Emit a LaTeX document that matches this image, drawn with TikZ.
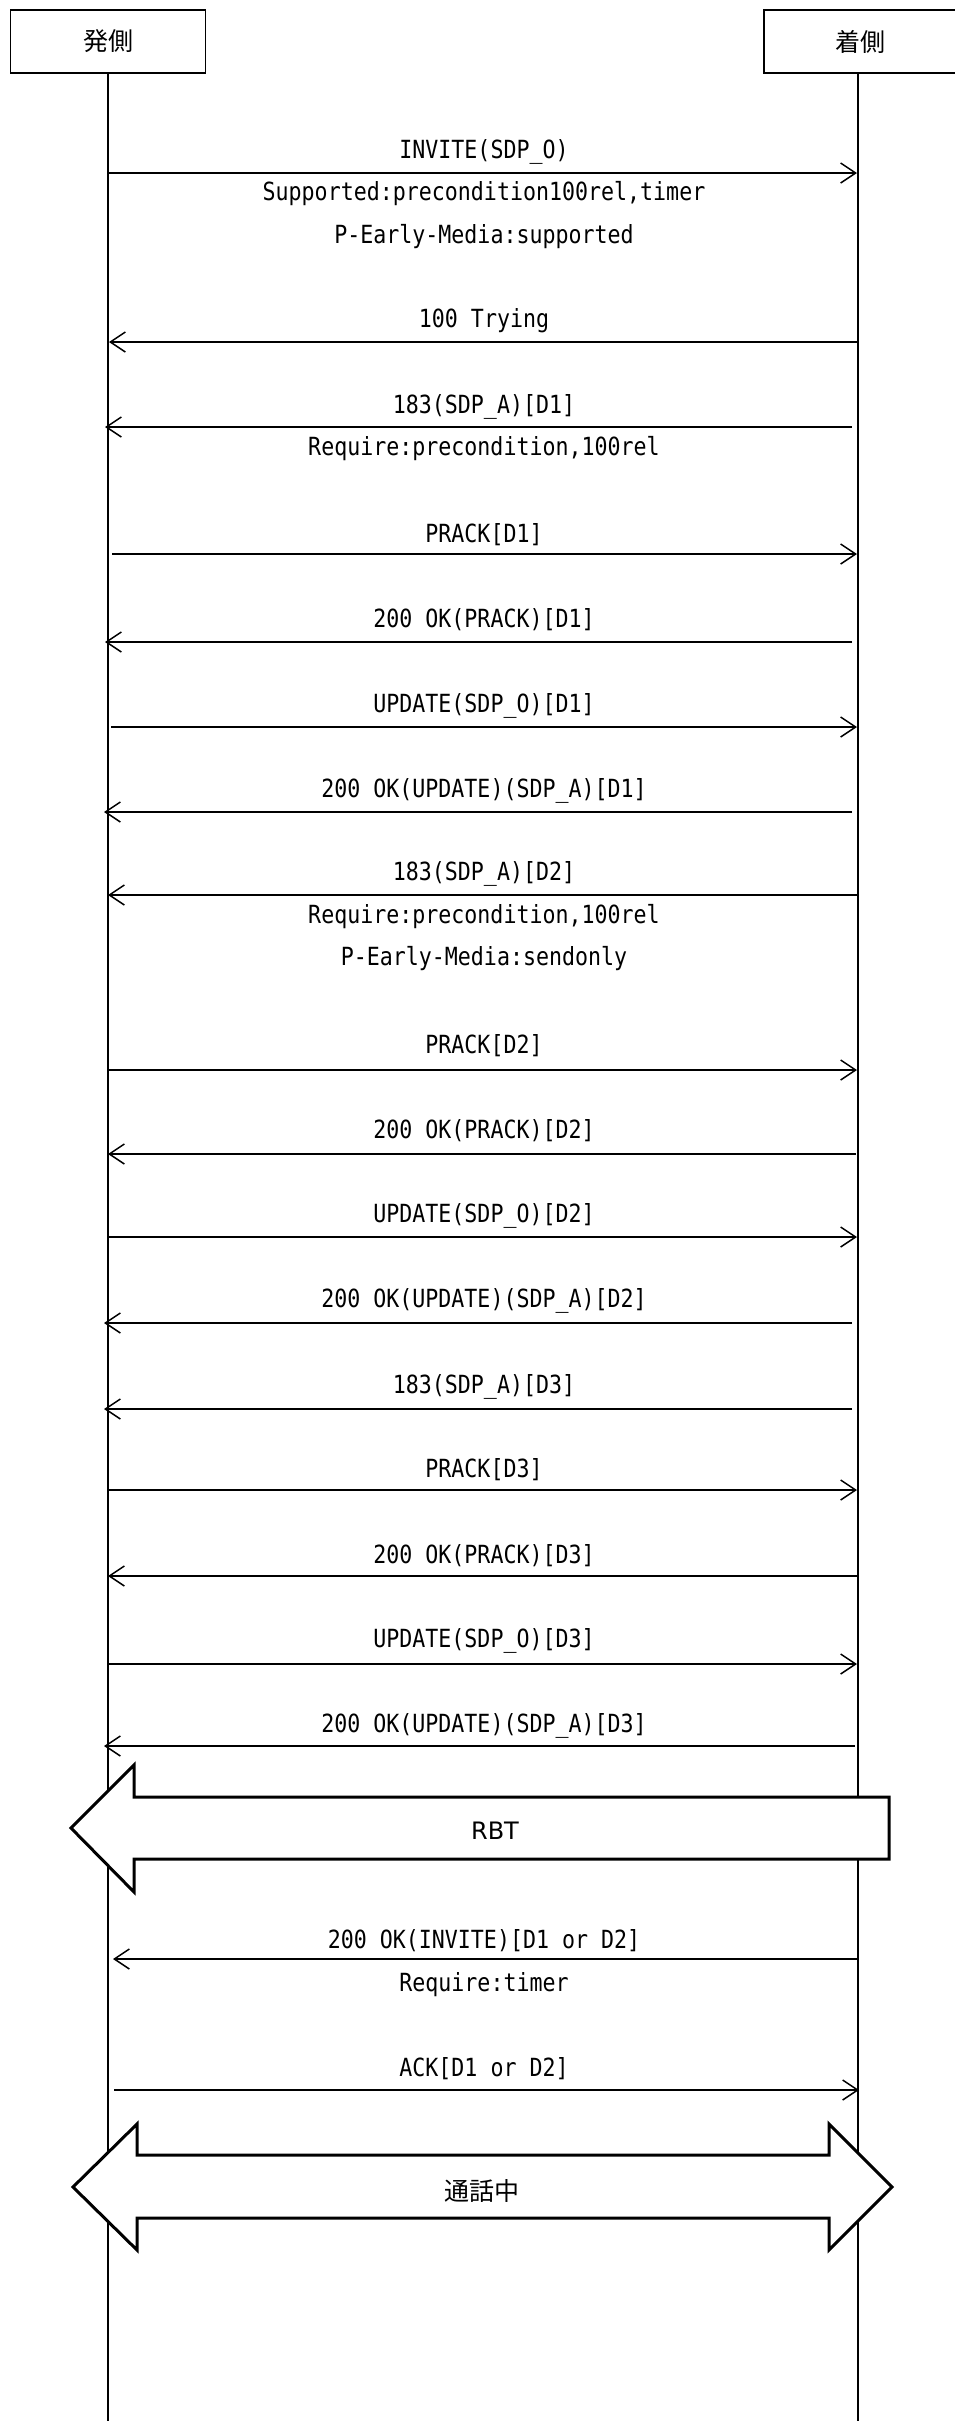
\documentclass[tikz,border=0pt]{standalone}
\usepackage{fontspec}
\usetikzlibrary{arrows.meta}
\newfontfamily\msgfont{DejaVu Sans Mono}[FakeStretch=0.865]
\newfontfamily\jpfont{Noto Sans CJK JP}
\newfontfamily\sansfont{DejaVu Sans}
\begin{document}
\begin{tikzpicture}[x=1pt,y=-1pt,
  actor/.style={draw, line width=1.5pt, fill=white, minimum height=63pt, inner sep=0pt, font=\jpfont\fontsize{25}{29}\selectfont},
  life/.style={line width=1.3pt},
  msg/.style={line width=1.5pt, -{Straight Barb[length=15pt,width=20pt]}},
  lbl/.style={font=\msgfont\fontsize{25}{29}\selectfont, inner sep=0pt},
  big/.style={line width=3pt, fill=white, line join=miter},
  bigtext/.style={inner sep=0pt}
]
\useasboundingbox (0,0) rectangle (954,2421);
\fill[white] (0,0) rectangle (954,2421);

% actors
\node[actor, minimum width=195pt] (A) at (108,41.5) {発側};
\node[actor, minimum width=192pt] (B) at (860,41.5) {着側};
\coordinate (At) at (108,73);
\coordinate (Ab) at (108,2421);
\coordinate (Bt) at (858,73);
\coordinate (Bb) at (858,2421);
\draw[life] (At) -- (Ab);
\draw[life] (Bt) -- (Bb);

% 1 INVITE
\coordinate (m1s) at (108,173); \coordinate (m1e) at (857,173);
\draw[msg] (m1s) -- (m1e);
\node[lbl] (m1t) at (484,152) {INVITE(SDP\_O)};
\node[lbl] (m1u) at (484,194) {Supported:precondition100rel,timer};
\node[lbl] (m1v) at (484,237) {P-Early-Media:supported};

% 2 100 Trying
\coordinate (m2s) at (858,342); \coordinate (m2e) at (109,342);
\draw[msg] (m2s) -- (m2e);
\node[lbl] (m2t) at (484,321) {100 Trying};

% 3 183 D1
\coordinate (m3s) at (852,427); \coordinate (m3e) at (105,427);
\draw[msg] (m3s) -- (m3e);
\node[lbl] (m3t) at (484,407) {183(SDP\_A)[D1]};
\node[lbl] (m3u) at (484,449) {Require:precondition,100rel};

% 4 PRACK D1
\coordinate (m4s) at (112,554); \coordinate (m4e) at (857,554);
\draw[msg] (m4s) -- (m4e);
\node[lbl] (m4t) at (484,535) {PRACK[D1]};

% 5 200 OK PRACK D1
\coordinate (m5s) at (852,642); \coordinate (m5e) at (105,642);
\draw[msg] (m5s) -- (m5e);
\node[lbl] (m5t) at (484,620) {200 OK(PRACK)[D1]};

% 6 UPDATE D1
\coordinate (m6s) at (111,727); \coordinate (m6e) at (857,727);
\draw[msg] (m6s) -- (m6e);
\node[lbl] (m6t) at (484,706) {UPDATE(SDP\_O)[D1]};

% 7 200 OK UPDATE D1
\coordinate (m7s) at (852,812); \coordinate (m7e) at (104,812);
\draw[msg] (m7s) -- (m7e);
\node[lbl] (m7t) at (484,791) {200 OK(UPDATE)(SDP\_A)[D1]};

% 8 183 D2
\coordinate (m8s) at (857,895); \coordinate (m8e) at (108,895);
\draw[msg] (m8s) -- (m8e);
\node[lbl] (m8t) at (484,874) {183(SDP\_A)[D2]};
\node[lbl] (m8u) at (484,917) {Require:precondition,100rel};
\node[lbl] (m8v) at (484,959) {P-Early-Media:sendonly};

% 9 PRACK D2
\coordinate (m9s) at (108,1070); \coordinate (m9e) at (857,1070);
\draw[msg] (m9s) -- (m9e);
\node[lbl] (m9t) at (484,1046) {PRACK[D2]};

% 10 200 OK PRACK D2
\coordinate (m10s) at (856,1154); \coordinate (m10e) at (108,1154);
\draw[msg] (m10s) -- (m10e);
\node[lbl] (m10t) at (484,1131) {200 OK(PRACK)[D2]};

% 11 UPDATE D2
\coordinate (m11s) at (108,1237); \coordinate (m11e) at (857,1237);
\draw[msg] (m11s) -- (m11e);
\node[lbl] (m11t) at (484,1216) {UPDATE(SDP\_O)[D2]};

% 12 200 OK UPDATE D2
\coordinate (m12s) at (852,1323); \coordinate (m12e) at (104,1323);
\draw[msg] (m12s) -- (m12e);
\node[lbl] (m12t) at (484,1301) {200 OK(UPDATE)(SDP\_A)[D2]};

% 13 183 D3
\coordinate (m13s) at (852,1409); \coordinate (m13e) at (104,1409);
\draw[msg] (m13s) -- (m13e);
\node[lbl] (m13t) at (484,1387) {183(SDP\_A)[D3]};

% 14 PRACK D3
\coordinate (m14s) at (108,1490); \coordinate (m14e) at (857,1490);
\draw[msg] (m14s) -- (m14e);
\node[lbl] (m14t) at (484,1470) {PRACK[D3]};

% 15 200 OK PRACK D3
\coordinate (m15s) at (857,1576); \coordinate (m15e) at (108,1576);
\draw[msg] (m15s) -- (m15e);
\node[lbl] (m15t) at (484,1556) {200 OK(PRACK)[D3]};

% 16 UPDATE D3
\coordinate (m16s) at (108,1664); \coordinate (m16e) at (857,1664);
\draw[msg] (m16s) -- (m16e);
\node[lbl] (m16t) at (484,1641) {UPDATE(SDP\_O)[D3]};

% 17 200 OK UPDATE D3
\coordinate (m17s) at (855,1746); \coordinate (m17e) at (104,1746);
\draw[msg] (m17s) -- (m17e);
\node[lbl] (m17t) at (484,1726) {200 OK(UPDATE)(SDP\_A)[D3]};

% RBT big arrow
\draw[big] (71,1828) -- (134,1765) -- (134,1797) -- (889,1797) -- (889,1859)
  -- (134,1859) -- (134,1892) -- cycle;
\node[bigtext, font=\sansfont\fontsize{24}{28}\selectfont] (rbt) at (495,1831) {RBT};

% 19 200 OK INVITE
\coordinate (m19s) at (858,1959); \coordinate (m19e) at (113,1959);
\draw[msg] (m19s) -- (m19e);
\node[lbl] (m19t) at (484,1941) {200 OK(INVITE)[D1 or D2]};
\node[lbl] (m19u) at (484,1985) {Require:timer};

% 20 ACK
\coordinate (m20s) at (114,2090); \coordinate (m20e) at (859,2090);
\draw[msg] (m20s) -- (m20e);
\node[lbl] (m20t) at (484,2069) {ACK[D1 or D2]};

% in-call double arrow
\draw[big] (73,2187) -- (137,2124) -- (137,2155) -- (829,2155) -- (829,2124)
  -- (892,2187) -- (829,2250) -- (829,2218) -- (137,2218) -- (137,2250) -- cycle;
\node[bigtext, font=\jpfont\fontsize{25}{29}\selectfont] (call) at (482,2191) {通話中};
\end{tikzpicture}
\end{document}
